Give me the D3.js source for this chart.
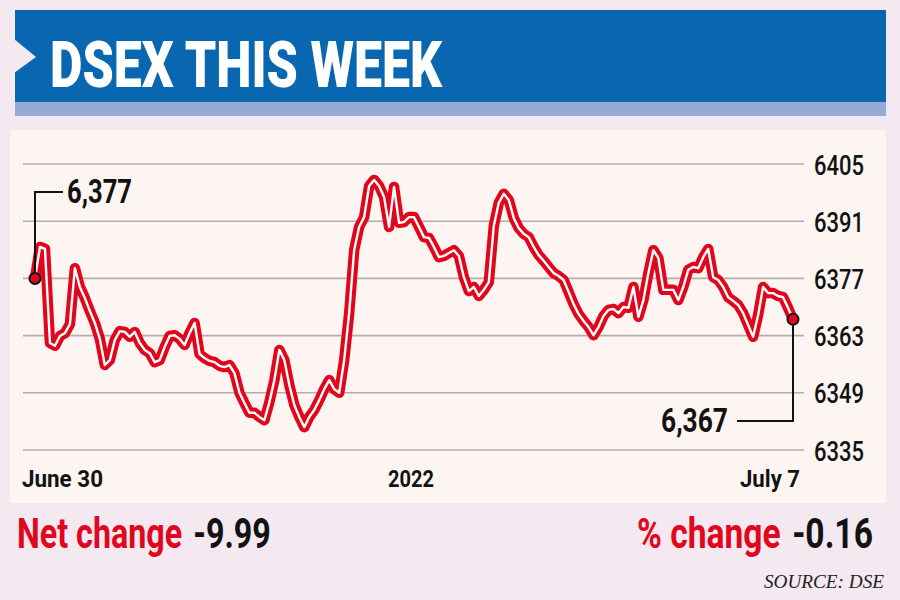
<!DOCTYPE html>
<html><head><meta charset="utf-8">
<script src="https://cdn.jsdelivr.net/npm/d3@7"></script>
<style>
body{margin:0;background:#f4e8f1;}
svg{display:block;font-family:Roboto,"Liberation Sans",sans-serif;}
</style>
</head><body>
<svg id="chart" width="900" height="600"></svg>
<script>
// ---------- data ----------
const titleText = "DSEX THIS WEEK";
const xLabels = ["June 30", "2022", "July 7"];
const yTicks = [6335, 6349, 6363, 6377, 6391, 6405];
const values = [
 6377.0, 6384.7, 6384.2, 6361.2, 6360.5, 6362.9, 6363.6, 6365.8, 6379.5, 6374.9,
 6372.2, 6369.0, 6366.1, 6362.2, 6355.8, 6357.0, 6361.9, 6364.1, 6363.9, 6362.7,
 6363.9, 6361.2, 6359.5, 6358.7, 6356.5, 6357.0, 6360.2, 6362.9, 6363.1, 6362.2,
 6360.7, 6363.6, 6366.1, 6358.5, 6357.5, 6356.8, 6356.5, 6355.6, 6355.3, 6355.8,
 6353.8, 6349.0, 6346.5, 6344.1, 6344.1, 6343.1, 6342.3, 6346.7, 6352.1, 6359.5,
 6357.0, 6350.9, 6346.0, 6343.1, 6340.6, 6343.1, 6344.8, 6347.2, 6349.9, 6352.1,
 6349.9, 6349.0, 6357.0, 6368.5, 6383.9, 6389.6, 6392.0, 6399.6, 6401.1, 6399.6,
 6396.9, 6389.6, 6399.4, 6390.6, 6390.8, 6392.0, 6392.0, 6389.6, 6387.1, 6386.9,
 6384.7, 6382.2, 6382.5, 6383.2, 6383.9, 6382.5, 6377.3, 6373.9, 6374.9, 6372.7,
 6374.2, 6376.1, 6389.8, 6395.5, 6397.7, 6396.2, 6391.8, 6389.3, 6387.9, 6387.1,
 6384.7, 6382.7, 6381.3, 6379.8, 6378.3, 6377.6, 6376.6, 6373.7, 6370.7, 6368.3,
 6366.6, 6365.1, 6363.1, 6365.1, 6367.8, 6369.3, 6369.5, 6368.5, 6370.0, 6369.8,
 6374.9, 6367.6, 6371.7, 6378.3, 6383.9, 6382.0, 6374.2, 6374.2, 6374.2, 6371.7,
 6374.9, 6379.1, 6379.8, 6379.5, 6382.2, 6384.2, 6377.3, 6376.6, 6374.9, 6372.4,
 6371.5, 6370.5, 6368.5, 6365.6, 6362.7, 6368.0, 6374.9, 6373.4, 6373.4, 6372.7,
 6372.4, 6369.8, 6367.0
];
const startLabel = "6,377";
const endLabel = "6,367";
const netLabel = "Net change", netValue = "-9.99";
const pctLabel = "% change", pctValue = "-0.16";
const sourceText = "SOURCE: DSE";

// ---------- drawing ----------
const RED = "#e2061c", BLACK = "#121212";
const svg = d3.select("#chart");

// title banner
svg.append("rect").attr("x",15).attr("y",10).attr("width",871).attr("height",106).attr("fill","#95abd6");
svg.append("rect").attr("x",15).attr("y",10).attr("width",871).attr("height",92).attr("fill","#0867b0");
svg.append("path").attr("d","M14,39 L36,57 L14,73 Z").attr("fill","#f4e8f1");
svg.append("text").attr("x",50).attr("y",87).text(titleText)
  .attr("fill","#fff").attr("font-size",64).attr("font-weight",900)
  .attr("textLength",392).attr("lengthAdjust","spacingAndGlyphs");

// chart panel
svg.append("rect").attr("x",10).attr("y",130).attr("width",876).attr("height",373).attr("fill","#fdf5f1");

const x = d3.scaleLinear().domain([0, values.length - 1]).range([35, 793]);
const y = d3.scaleLinear().domain([6335, 6405]).range([450, 164]);

// gridlines
svg.append("g").selectAll("line").data(yTicks).join("line")
  .attr("x1",23).attr("x2",804)
  .attr("y1",d=>y(d)).attr("y2",d=>y(d))
  .attr("stroke","#b3adab").attr("stroke-width",1.6);

// y axis (right)
const yAxis = svg.append("g").attr("transform","translate(814,0)")
  .call(d3.axisRight(y).tickValues(yTicks).tickSize(0).tickPadding(0).tickFormat(d3.format("d")));
yAxis.select(".domain").remove();
yAxis.attr("font-family",null).attr("font-size",null);
yAxis.selectAll("text")
  .attr("font-size",27).attr("font-weight",500).attr("fill",BLACK)
  .attr("dy",null).attr("y",10)
  .attr("textLength",50).attr("lengthAdjust","spacingAndGlyphs");

// x labels
const xp = d3.scalePoint().domain(xLabels).range([22, 800]);
const anchors = ["start","middle","end"];
const xLens = [81, 46, 60];
svg.append("g").selectAll("text").data(xLabels).join("text")
  .attr("x",d=>xp(d)).attr("y",487)
  .attr("text-anchor",(d,i)=>anchors[i])
  .attr("font-size",23).attr("font-weight",700).attr("fill",BLACK)
  .attr("textLength",(d,i)=>xLens[i]).attr("lengthAdjust","spacingAndGlyphs")
  .text(d=>d);

// line
const line = d3.line().x((d,i)=>x(i)).y(d=>y(d));
svg.append("path").datum(values).attr("d",line)
  .attr("fill","none").attr("stroke",RED).attr("stroke-width",10.5)
  .attr("stroke-linejoin","round").attr("stroke-linecap","round");
svg.append("path").datum(values).attr("d",line)
  .attr("fill","none").attr("stroke","#fff").attr("stroke-width",2.4)
  .attr("stroke-linejoin","round").attr("stroke-linecap","round");

// annotations
const n = values.length - 1;
const sx = x(0), sy = y(values[0]);
const ex = x(n), ey = y(values[n]);
svg.append("path").attr("d",`M${sx},${sy-6} V192 H63`)
  .attr("fill","none").attr("stroke",BLACK).attr("stroke-width",2);
svg.append("path").attr("d",`M${ex},${ey+6} V421 H737`)
  .attr("fill","none").attr("stroke",BLACK).attr("stroke-width",2);
svg.append("circle").attr("cx",sx).attr("cy",sy).attr("r",5.5)
  .attr("fill",RED).attr("stroke",BLACK).attr("stroke-width",2);
svg.append("circle").attr("cx",ex).attr("cy",ey).attr("r",5.5)
  .attr("fill",RED).attr("stroke",BLACK).attr("stroke-width",2);
svg.append("text").attr("x",67).attr("y",203).text(startLabel)
  .attr("font-size",33).attr("font-weight",700).attr("fill",BLACK)
  .attr("textLength",65).attr("lengthAdjust","spacingAndGlyphs");
svg.append("text").attr("x",728).attr("y",432).attr("text-anchor","end").text(endLabel)
  .attr("font-size",33).attr("font-weight",700).attr("fill",BLACK)
  .attr("textLength",67).attr("lengthAdjust","spacingAndGlyphs");

// bottom summary: one text per pair, squeezed horizontally to target width
function summary(x0, width, label, value){
  const t = svg.append("text").attr("x",0).attr("y",0)
    .attr("font-size",42).attr("font-weight",700);
  t.append("tspan").attr("fill",RED).text(label);
  t.append("tspan").attr("fill",BLACK).attr("dx",4).text(" " + value);
  const w = t.node().getComputedTextLength() + 4;
  t.attr("transform",`translate(${x0},548) scale(${width / w},1)`);
}
summary(17, 254, netLabel, netValue);
summary(637, 236, pctLabel, pctValue);

svg.append("text").attr("x",884).attr("y",588).attr("text-anchor","end").text(sourceText)
  .style("font-family","'Liberation Serif', 'DejaVu Serif', serif").style("font-style","italic")
  .attr("font-size",18).attr("fill","#222")
  .attr("textLength",120).attr("lengthAdjust","spacingAndGlyphs");
</script>
</body></html>
